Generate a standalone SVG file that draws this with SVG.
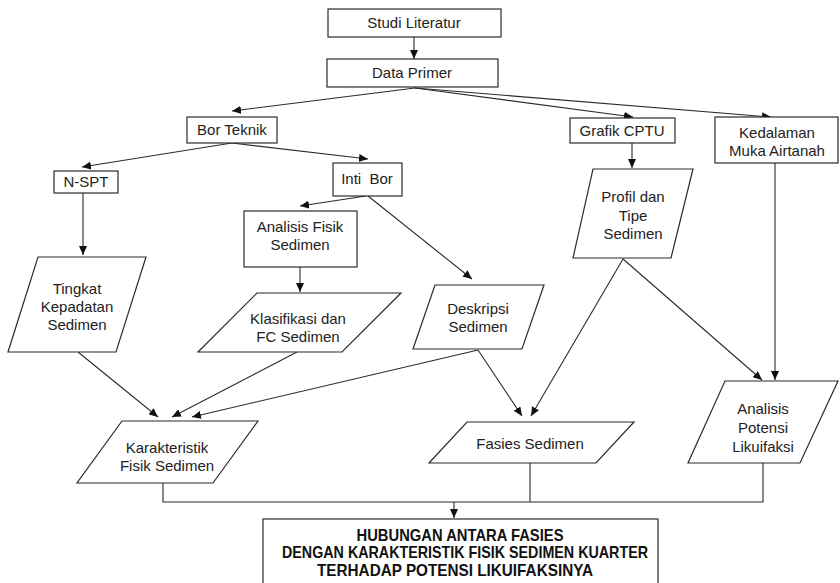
<svg xmlns="http://www.w3.org/2000/svg" width="840" height="583" viewBox="0 0 840 583">
<style>
.n{fill:#fff;stroke:#2b2b2b;stroke-width:1.2}
.t{font-family:"Liberation Sans",Arial,sans-serif;font-size:15px;fill:#222;text-anchor:middle}
.b{font-family:"Liberation Sans",Arial,sans-serif;font-size:16.5px;font-weight:bold;fill:#111;text-anchor:middle}
.c{fill:none;stroke:#2b2b2b;stroke-width:1.1}
</style>
<defs>
<marker id="ah" markerUnits="userSpaceOnUse" markerWidth="9" markerHeight="8" refX="9" refY="4" orient="auto">
<path d="M0,0 L9,4 L0,8 z" fill="#111"/>
</marker>
</defs>
<rect width="840" height="583" fill="#fff"/>
<g id="connectors">
<line class="c" x1="414" y1="37" x2="414" y2="59" marker-end="url(#ah)"/>
<line class="c" x1="415" y1="88" x2="232" y2="111" marker-end="url(#ah)"/>
<line class="c" x1="415" y1="88" x2="633" y2="117" marker-end="url(#ah)"/>
<line class="c" x1="415" y1="88" x2="771" y2="117" marker-end="url(#ah)"/>
<line class="c" x1="232" y1="143" x2="82" y2="167" marker-end="url(#ah)"/>
<line class="c" x1="232" y1="143" x2="368" y2="159" marker-end="url(#ah)"/>
<line class="c" x1="83" y1="193" x2="83" y2="255" marker-end="url(#ah)"/>
<line class="c" x1="366" y1="196" x2="300" y2="206" marker-end="url(#ah)"/>
<line class="c" x1="368" y1="196" x2="472" y2="279" marker-end="url(#ah)"/>
<line class="c" x1="300" y1="267" x2="300" y2="292" marker-end="url(#ah)"/>
<line class="c" x1="632" y1="143" x2="632" y2="168" marker-end="url(#ah)"/>
<line class="c" x1="775" y1="163" x2="775" y2="380" marker-end="url(#ah)"/>
<line class="c" x1="78" y1="352" x2="158" y2="417" marker-end="url(#ah)"/>
<line class="c" x1="297" y1="352" x2="172" y2="417" marker-end="url(#ah)"/>
<line class="c" x1="478" y1="350" x2="192" y2="417" marker-end="url(#ah)"/>
<line class="c" x1="478" y1="350" x2="522" y2="416" marker-end="url(#ah)"/>
<line class="c" x1="623" y1="259" x2="531" y2="416" marker-end="url(#ah)"/>
<line class="c" x1="623" y1="259" x2="762" y2="380" marker-end="url(#ah)"/>
<polyline class="c" points="163,483 163,502 763,502 763,463"/>
<line class="c" x1="530" y1="463" x2="530" y2="502"/>
<line class="c" x1="454" y1="502" x2="454" y2="518" marker-end="url(#ah)"/>
</g>
<g id="studi-literatur">
<rect class="n" x="328" y="9" width="173" height="28"/>
<text class="t" x="414" y="28">Studi Literatur</text>
</g>
<g id="data-primer">
<rect class="n" x="327" y="59" width="171" height="28"/>
<text class="t" x="412" y="78">Data Primer</text>
</g>
<g id="bor-teknik">
<rect class="n" x="187" y="117" width="90" height="26"/>
<text class="t" x="232" y="135">Bor Teknik</text>
</g>
<g id="grafik-cptu">
<rect class="n" x="570" y="118" width="105" height="25"/>
<text class="t" x="622" y="136">Grafik CPTU</text>
</g>
<g id="kedalaman">
<rect class="n" x="715" y="117" width="123" height="46"/>
<text class="t" x="777" y="138">Kedalaman</text>
<text class="t" x="777" y="156">Muka Airtanah</text>
</g>
<g id="n-spt">
<rect class="n" x="54" y="171" width="64" height="22"/>
<text class="t" x="86" y="187">N-SPT</text>
</g>
<g id="inti-bor">
<rect class="n" x="333" y="163" width="69" height="33"/>
<text class="t" x="367" y="184" xml:space="preserve">Inti  Bor</text>
</g>
<g id="analisis-fisik">
<rect class="n" x="244" y="211" width="113" height="56"/>
<text class="t" x="300" y="232">Analisis Fisik</text>
<text class="t" x="300" y="250">Sedimen</text>
</g>
<g id="profil-tipe">
<polygon class="n" points="593,169 693,169 671,258 573,258"/>
<text class="t" x="633" y="202">Profil dan</text>
<text class="t" x="633" y="221">Tipe</text>
<text class="t" x="633" y="239">Sedimen</text>
</g>
<g id="tingkat-kepadatan">
<polygon class="n" points="38,257 146,257 116,352 8,352"/>
<text class="t" x="77" y="294">Tingkat</text>
<text class="t" x="77" y="312">Kepadatan</text>
<text class="t" x="77" y="330">Sedimen</text>
</g>
<g id="klasifikasi">
<polygon class="n" points="257,293 401,293 342,352 198,352"/>
<text class="t" x="298" y="324">Klasifikasi dan</text>
<text class="t" x="298" y="342">FC Sedimen</text>
</g>
<g id="deskripsi">
<polygon class="n" points="435,285 544,285 522,349 413,349"/>
<text class="t" x="478" y="314">Deskripsi</text>
<text class="t" x="478" y="332">Sedimen</text>
</g>
<g id="karakteristik">
<polygon class="n" points="122,421 258,421 213,483 77,483"/>
<text class="t" x="167" y="453">Karakteristik</text>
<text class="t" x="167" y="471">Fisik Sedimen</text>
</g>
<g id="fasies">
<polygon class="n" points="467,422 634,422 596,463 429,463"/>
<text class="t" x="530" y="449">Fasies Sedimen</text>
</g>
<g id="analisis-potensi">
<polygon class="n" points="725,381 838,381 800,463 688,463"/>
<text class="t" x="763" y="414">Analisis</text>
<text class="t" x="763" y="433">Potensi</text>
<text class="t" x="763" y="452">Likuifaksi</text>
</g>
<g id="hubungan">
<rect class="n" x="263" y="519" width="395" height="80"/>
<text class="b" x="460" y="541" textLength="207" lengthAdjust="spacingAndGlyphs">HUBUNGAN ANTARA FASIES</text>
<text class="b" x="465" y="558" textLength="366" lengthAdjust="spacingAndGlyphs">DENGAN KARAKTERISTIK FISIK SEDIMEN KUARTER</text>
<text class="b" x="455" y="576" textLength="276" lengthAdjust="spacingAndGlyphs">TERHADAP POTENSI LIKUIFAKSINYA</text>
</g>
</svg>
